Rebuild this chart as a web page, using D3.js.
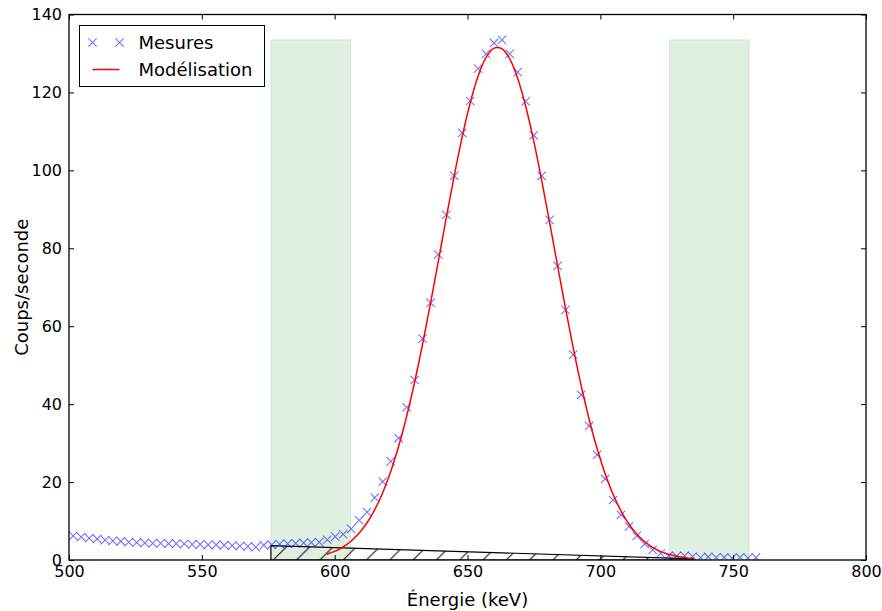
<!DOCTYPE html>
<html>
<head>
<meta charset="utf-8">
<script src="https://cdn.jsdelivr.net/npm/d3@7"></script>
<style>
  html, body { margin: 0; padding: 0; background: #fff; }
  svg { display: block; font-family: "DejaVu Sans", sans-serif; }
</style>
</head>
<body>
<div id="chart"></div>
<script>
// --- Data ---
const energies = [
  501.6, 504.6, 507.6, 510.6, 513.6, 516.5, 519.5, 522.5, 525.5, 528.5,
  531.5, 534.5, 537.5, 540.4, 543.4, 546.4, 549.4, 552.4, 555.4, 558.4,
  561.4, 564.3, 567.3, 570.3, 573.3, 576.3, 579.3, 582.3, 585.3, 588.3,
  591.2, 594.2, 597.2, 600.2, 603.2, 606.2, 609.2, 612.2, 615.1, 618.1,
  621.1, 624.1, 627.1, 630.1, 633.1, 636.1, 639.0, 642.0, 645.0, 648.0,
  651.0, 654.0, 657.0, 660.0, 663.0, 665.9, 668.9, 671.9, 674.9, 677.9,
  680.9, 683.9, 686.9, 689.8, 692.8, 695.8, 698.8, 701.8, 704.8, 707.8,
  710.8, 713.7, 716.7, 719.7, 722.7, 725.7, 728.7, 731.7, 734.7, 737.7,
  740.6, 743.6, 746.6, 749.6, 752.6, 755.6, 758.6
];
const counts = [
  6.2, 5.9, 5.6, 5.4, 5.1, 4.9, 4.8, 4.6, 4.5, 4.4,
  4.3, 4.3, 4.2, 4.2, 4.1, 4.0, 4.0, 3.9, 3.9, 3.8,
  3.7, 3.6, 3.5, 3.3, 3.8, 3.9, 4.1, 4.2, 4.3, 4.4,
  4.5, 4.6, 5.2, 6.0, 6.6, 8.0, 10.2, 12.3, 16.0, 20.1,
  25.3, 31.3, 39.2, 46.2, 56.8, 66.0, 78.4, 88.6, 98.6, 109.6,
  117.8, 126.1, 129.9, 132.7, 133.5, 129.9, 125.2, 117.7, 109.0, 98.6,
  87.3, 75.5, 64.2, 52.7, 42.4, 34.4, 27.0, 20.8, 15.4, 11.6,
  8.6, 6.2, 4.1, 2.6, 1.7, 1.1, 1.0, 1.1, 0.9, 0.6,
  0.8, 0.6, 0.7, 0.5, 0.7, 0.5, 0.6
];

// fitted curve, sampled every 3 keV
const fitEnergies = [
  597, 600, 603, 606, 609, 612, 615, 618, 621, 624, 627, 630, 633, 636, 639, 642,
  645, 648, 651, 654, 657, 660, 663, 666, 669, 672, 675, 678, 681, 684, 687, 690,
  693, 696, 699, 702, 705, 708, 711, 714, 717, 720, 723, 726, 729, 732, 735
];
const fitCounts = [
  1.47, 2.21, 3.27, 4.74, 6.73, 9.37, 12.80, 17.15, 22.52, 29.00, 36.63, 45.37, 55.11, 65.63, 76.65, 87.78,
  98.59, 108.58, 117.27, 124.20, 128.98, 131.36, 131.19, 128.48, 123.39, 116.20, 107.31, 97.19, 86.31, 75.17, 64.19, 53.75,
  44.14, 35.55, 28.08, 21.74, 16.51, 12.30, 8.98, 6.43, 4.52, 3.11, 2.10, 1.39, 0.90, 0.58, 0.36
];

// background windows and linear background under the peak
const windows = [[576, 606], [726, 756]];
const bgEnergies = [576, 735];
const bgCounts = [3.7, 0.3];

const xTicks = [500, 550, 600, 650, 700, 750, 800];
const yTicks = [0, 20, 40, 60, 80, 100, 120, 140];

// --- Layout ---
const W = 882, H = 611;
const margin = { top: 14.5, right: 16, bottom: 51, left: 69 };
const iw = W - margin.left - margin.right;
const ih = H - margin.top - margin.bottom;

const x = d3.scaleLinear().domain([500, 800]).range([0, iw]);
const y = d3.scaleLinear().domain([0, 140]).range([ih, 0]);

const svg = d3.select('#chart').append('svg')
  .attr('width', W).attr('height', H);

const defs = svg.append('defs');
defs.append('clipPath').attr('id', 'clip')
  .append('rect').attr('width', iw).attr('height', ih);

// hatch '/' like matplotlib
const hs = 23.3;
const hatch = defs.append('pattern')
  .attr('id', 'hatch')
  .attr('patternUnits', 'userSpaceOnUse')
  .attr('x', 4.2).attr('y', 0)
  .attr('width', hs).attr('height', hs);
hatch.append('path')
  .attr('d', `M0,${hs} L${hs},0 M${-hs / 2},${hs / 2} L${hs / 2},${-hs / 2} M${hs / 2},${hs * 1.5} L${hs * 1.5},${hs / 2}`)
  .attr('stroke', '#000').attr('stroke-width', 1).attr('fill', 'none');

const g = svg.append('g').attr('transform', `translate(${margin.left},${margin.top})`);
const plot = g.append('g').attr('clip-path', 'url(#clip)');

// green windows
const maxCount = d3.max(counts);
plot.selectAll('rect.win').data(windows).join('rect')
  .attr('class', 'win')
  .attr('x', d => x(d[0]))
  .attr('width', d => x(d[1]) - x(d[0]))
  .attr('y', y(maxCount))
  .attr('height', y(0) - y(maxCount))
  .attr('fill', 'rgb(0,128,0)').attr('fill-opacity', 0.12)
  .attr('stroke', 'rgb(0,128,0)').attr('stroke-opacity', 0.12);

// hatched background area
const bgArea = [
  [bgEnergies[0], 0], [bgEnergies[0], bgCounts[0]],
  [bgEnergies[1], bgCounts[1]], [bgEnergies[1], 0]
];
plot.append('path')
  .attr('d', d3.line().x(d => x(d[0])).y(d => y(d[1]))(bgArea) + 'Z')
  .attr('fill', 'url(#hatch)')
  .attr('stroke', '#000').attr('stroke-width', 1.2);

// measured points as 'x' markers
const ms = 4.2;
const pts = energies.map((e, i) => [e, counts[i]]);
plot.append('g').selectAll('path').data(pts).join('path')
  .attr('d', d => {
    const px = x(d[0]), py = y(d[1]);
    return `M${px - ms},${py - ms}L${px + ms},${py + ms}M${px - ms},${py + ms}L${px + ms},${py - ms}`;
  })
  .attr('stroke', 'blue').attr('stroke-opacity', 0.55).attr('stroke-width', 1.1)
  .attr('fill', 'none');

// model curve
const fitPts = fitEnergies.map((e, i) => [e, fitCounts[i]]);
plot.append('path')
  .attr('d', d3.line().x(d => x(d[0])).y(d => y(d[1])).curve(d3.curveCatmullRom)(fitPts))
  .attr('fill', 'none').attr('stroke', 'red').attr('stroke-width', 1.5);

// --- Axes (ticks pointing inward on all sides) ---
const tl = 5;
const axB = g.append('g').attr('transform', `translate(0,${ih})`)
  .call(d3.axisBottom(x).tickValues(xTicks).tickSizeInner(-tl).tickSizeOuter(0).tickPadding(6));
const axT = g.append('g')
  .call(d3.axisTop(x).tickValues(xTicks).tickSizeInner(-tl).tickSizeOuter(0).tickFormat(''));
const axL = g.append('g')
  .call(d3.axisLeft(y).tickValues(yTicks).tickSizeInner(-tl).tickSizeOuter(0).tickPadding(7));
const axR = g.append('g').attr('transform', `translate(${iw},0)`)
  .call(d3.axisRight(y).tickValues(yTicks).tickSizeInner(-tl).tickSizeOuter(0).tickFormat(''));

[axB, axT, axL, axR].forEach(a => {
  a.select('.domain').remove();
  a.selectAll('line').attr('stroke', '#000').attr('stroke-width', 1);
  a.selectAll('text').attr('fill', '#000')
    .style('font-family', '"DejaVu Sans", sans-serif').style('font-size', '16px');
});

g.append('rect').attr('width', iw).attr('height', ih)
  .attr('fill', 'none').attr('stroke', '#000').attr('stroke-width', 1.3);

// axis labels
svg.append('text')
  .attr('x', margin.left + iw / 2).attr('y', 606)
  .attr('text-anchor', 'middle')
  .style('font-size', '18px')
  .text('Énergie (keV)');

svg.append('text')
  .attr('transform', `translate(28,${margin.top + ih / 2}) rotate(-90)`)
  .attr('text-anchor', 'middle')
  .style('font-size', '18px')
  .text('Coups/seconde');

// --- Legend ---
const lg = svg.append('g').attr('transform', 'translate(79.5,25.5)');
lg.append('rect').attr('width', 185).attr('height', 61)
  .attr('fill', '#fff').attr('stroke', '#000').attr('stroke-width', 1);

[13, 40].forEach(mx => {
  lg.append('path')
    .attr('d', `M${mx - ms},${17 - ms}L${mx + ms},${17 + ms}M${mx - ms},${17 + ms}L${mx + ms},${17 - ms}`)
    .attr('stroke', 'blue').attr('stroke-opacity', 0.55).attr('stroke-width', 1.1);
});
lg.append('line').attr('x1', 13).attr('x2', 40).attr('y1', 44).attr('y2', 44)
  .attr('stroke', 'red').attr('stroke-width', 1.5);

lg.append('text').attr('x', 59).attr('y', 23.5).style('font-size', '18px').text('Mesures');
lg.append('text').attr('x', 59).attr('y', 50.5).style('font-size', '18px').text('Modélisation');
</script>
</body>
</html>
